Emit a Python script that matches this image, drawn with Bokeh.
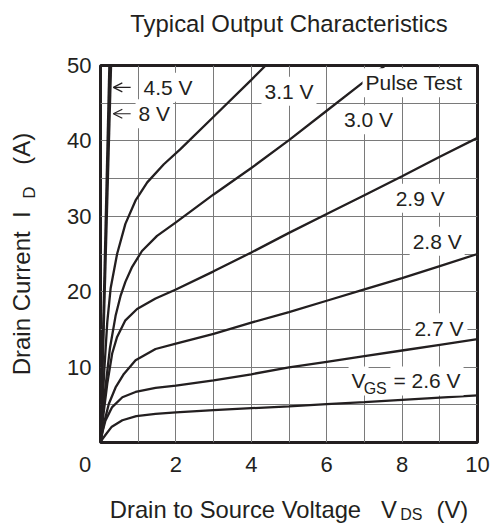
import math
from bokeh.plotting import figure
from bokeh.models import Label, Arrow, OpenHead, FixedTicker, Range1d, Title, LinearAxis
from bokeh.embed import file_html
from bokeh.resources import INLINE

FONT = "Liberation Sans"
INK = "#231f20"
NB = "\u00a0"

# ---- data ----
x_ticks = [0, 2, 4, 6, 8, 10]
y_ticks = [10, 20, 30, 40, 50]
x_grid = [1, 2, 3, 4, 5, 6, 7, 8, 9]
y_grid = [5, 10, 15, 20, 25, 30, 35, 40, 45]

vds_8v = [0, 0.235]
id_8v = [0, 50]
vds_45v = [0, 0.28]
id_45v = [0, 50]
vds_31 = [0, 0.1, 0.18, 0.27, 0.44, 0.66, 0.93, 1.24, 1.68, 2.12, 3, 4, 4.38]
id_31 = [0, 9.5, 16.0, 20.5, 25.0, 29.0, 32.1, 34.5, 36.9, 38.9, 43.2, 48.1, 50]
vds_30 = [0, 0.1, 0.25, 0.4, 0.53, 0.66, 0.84, 1.1, 1.5, 2, 3, 4, 5, 6, 7, 7.55]
id_30 = [0, 6.0, 12.5, 16.8, 19.4, 21.3, 23.3, 25.4, 27.4, 29.2, 32.9, 36.4, 40.1, 44.0, 47.9, 50]
vds_29 = [0, 0.08, 0.18, 0.31, 0.44, 0.66, 0.97, 1.46, 2, 3, 4, 5, 6, 7, 8, 9, 10]
id_29 = [0, 3.8, 7.8, 11.8, 14.0, 16.2, 17.7, 19.1, 20.3, 22.7, 25.2, 27.8, 30.3, 32.8, 35.3, 37.9, 40.4]
vds_28 = [0, 0.09, 0.22, 0.4, 0.62, 0.93, 1.46, 2, 3, 4, 5, 6, 7, 8, 9, 10]
id_28 = [0, 2.5, 5.1, 7.3, 9.1, 10.9, 12.4, 13.1, 14.4, 15.9, 17.3, 18.8, 20.3, 21.8, 23.4, 25.0]
vds_27 = [0, 0.04, 0.13, 0.31, 0.58, 0.93, 1.46, 2, 3, 4, 5, 6, 7, 8, 9, 10]
id_27 = [0, 1.15, 2.9, 4.7, 6.0, 6.7, 7.25, 7.55, 8.25, 9.05, 9.95, 10.7, 11.45, 12.2, 12.95, 13.7]
vds_26 = [0, 0.05, 0.13, 0.3, 0.58, 0.95, 1.46, 2, 3, 4, 5, 6, 7, 8, 9, 10]
id_26 = [0, 0.45, 1.0, 2.1, 2.95, 3.5, 3.8, 4.0, 4.3, 4.55, 4.8, 5.1, 5.35, 5.65, 5.95, 6.25]

curves = [(vds_8v, id_8v), (vds_45v, id_45v), (vds_31, id_31), (vds_30, id_30),
          (vds_29, id_29), (vds_28, id_28), (vds_26, id_26)]

p = figure(width=495, height=526, x_range=Range1d(0, 10), y_range=Range1d(0, 50),
           output_backend="svg", toolbar_location=None,
           min_border_left=100, min_border_right=18, min_border_top=65, min_border_bottom=84)

# spacer between frame and title (pushes the title upward)
p.add_layout(Title(text=NB, text_font_size="11.5px"), "above")

p.title.text = "Typical Output Characteristics"
p.title.align = "center"
p.title.text_font = FONT
p.title.text_font_size = "23.9px"
p.title.text_font_style = "normal"
p.title.text_color = INK

p.background_fill_color = "white"
p.border_fill_color = "white"
p.outline_line_color = INK
p.outline_line_width = 3

p.xaxis.ticker = FixedTicker(ticks=x_ticks)
p.yaxis.ticker = FixedTicker(ticks=y_ticks)
p.xgrid.ticker = FixedTicker(ticks=x_grid)
p.ygrid.ticker = FixedTicker(ticks=y_grid)
p.grid.grid_line_color = "#7a7a7a"
p.grid.grid_line_width = 1


def style_axis(ax):
    ax.axis_line_color = None
    ax.major_tick_line_color = None
    ax.minor_tick_line_color = None
    ax.major_tick_out = 0
    ax.major_tick_in = 0
    ax.minor_tick_out = 0
    ax.minor_tick_in = 0
    ax.major_label_text_font = FONT
    ax.major_label_text_font_size = "22px"
    ax.major_label_text_color = INK
    ax.axis_label_text_font = FONT
    ax.axis_label_text_font_style = "normal"
    ax.axis_label_text_color = INK


for ax in (p.xaxis[0], p.yaxis[0]):
    style_axis(ax)

# the shared origin "0" sits left of the corner
p.xaxis.major_label_overrides = {0: "0" + NB * 5}
p.xaxis.major_label_standoff = 9
p.yaxis.major_label_standoff = 9
p.xaxis.axis_label = "Drain to Source Voltage" + NB * 3 + "V" + NB * 6 + "(V)"
p.xaxis.axis_label_text_font_size = "23.8px"
p.xaxis.axis_label_standoff = 16
p.yaxis.axis_label = "Drain Current" + NB * 2 + "I" + NB * 7 + "(A)"
p.yaxis.axis_label_text_font_size = "24px"
p.yaxis.axis_label_standoff = 29

# subscripts: tick-less extra axes whose labels are pulled back onto the title rows
ax_ds = LinearAxis(ticker=FixedTicker(ticks=[]), axis_label=NB * 55 + "DS")
style_axis(ax_ds)
ax_ds.major_label_standoff = 0
ax_ds.axis_label_text_font_size = "16px"
ax_ds.axis_label_standoff = -20
p.add_layout(ax_ds, "below")

ax_d = LinearAxis(ticker=FixedTicker(ticks=[]), axis_label=NB * 26 + "D")
style_axis(ax_d)
ax_d.major_label_standoff = 0
ax_d.axis_label_text_font_size = "17px"
ax_d.axis_label_standoff = -33
p.add_layout(ax_d, "left")

for xs, ys in curves:
    p.line(xs, ys, line_color=INK, line_width=2.3)
# the 2.7 V curve runs just beneath its label and stays visible over the label box
p.line(vds_27, id_27, line_color=INK, line_width=2.3, level="overlay")


def lbl(x, y, text, size="21px", align="left", baseline="middle", bg=False, pad=3):
    l = Label(x=x, y=y, text=text, text_font=FONT, text_font_size=size, text_color=INK,
              text_align=align, text_baseline=baseline)
    if bg:
        l.background_fill_color = "white"
        l.padding = pad
    p.add_layout(l)
    return l


# arrows to the 4.5 V and 8 V lines
for yy in (47.1, 43.6):
    p.add_layout(Arrow(end=OpenHead(size=9, line_width=1.2, line_color=INK),
                       x_start=0.8, y_start=yy, x_end=0.34, y_end=yy,
                       line_color=INK, line_width=1.2))

lbl(1.06, 47.1, "4.5 V", bg=True)
lbl(0.93, 43.6, "8 V", bg=True)
lbl(4.27, 46.6, "3.1 V", bg=True)
lbl(6.95, 47.7, "Pulse Test", bg=True)
lbl(6.38, 42.8, "3.0 V", bg=True)
lbl(7.75, 32.4, "2.9 V", bg=True)
lbl(8.2, 26.7, "2.8 V", bg=True)
lbl(8.22, 15.1, "2.7 V", bg=True, pad=4)
lbl(7.69, 8.16, "= 2.6 V", bg=True)
lbl(6.58, 8.16, "V", bg=True)
lbl(6.98, 7.16, "GS", size="16px")

open("out.html", "w").write(file_html(p, INLINE))
